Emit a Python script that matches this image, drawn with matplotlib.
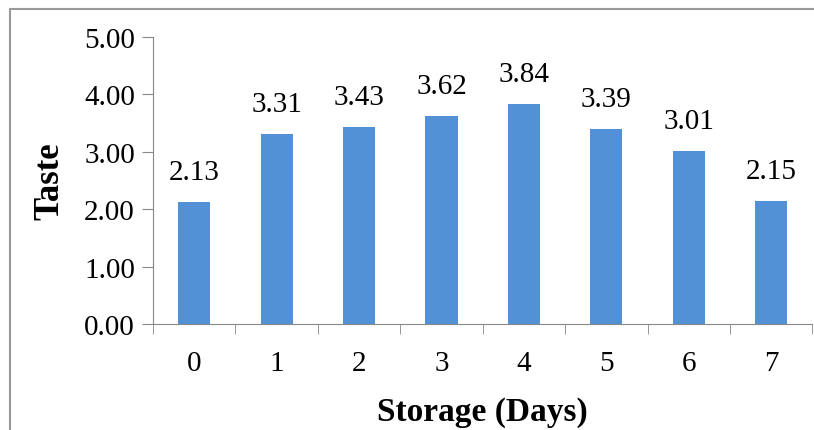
import numpy as np
import matplotlib.pyplot as plt
from matplotlib.patches import Rectangle

days = [0, 1, 2, 3, 4, 5, 6, 7]
taste = [2.13, 3.31, 3.43, 3.62, 3.84, 3.39, 3.01, 2.15]
y_ticks = [0, 1, 2, 3, 4, 5]

plt.rcParams['font.family'] = ['Liberation Serif', 'DejaVu Serif']

fig = plt.figure(figsize=(8.14, 4.31), dpi=100)
ax = fig.add_axes([0.188, 0.246, 0.81, 0.666])

x = np.arange(len(days))
ax.bar(x, taste, width=0.39, color="#5391D7")
# value labels above each bar
for xi, v in zip(x, taste):
    ax.text(xi, v + 0.4, f"{v:.2f}", ha="center", va="baseline", fontsize=21)

ax.set_xlim(-0.5, len(days) - 0.5)
ax.set_ylim(0, 5)
ax.set_yticks(y_ticks)
ax.set_yticklabels([f"{t:.2f}" for t in y_ticks], fontsize=21)
ax.set_xticks(x)
ax.set_xticklabels([str(d) for d in days], fontsize=21)
ax.tick_params(axis="x", length=0, pad=19)
ax.set_xticks(np.arange(-0.5, len(days)), minor=True)
ax.tick_params(axis="x", which="minor", length=7, color="#888888", direction="out")
ax.tick_params(axis="y", length=8, color="#888888", pad=5)

for side in ["top", "right"]:
    ax.spines[side].set_visible(False)
for side in ["left", "bottom"]:
    ax.spines[side].set_color("#888888")

ax.set_xlabel("Storage (Days)", fontsize=24, fontweight="bold", labelpad=14)
ax.set_ylabel("Taste", fontsize=25, fontweight="bold", labelpad=13)

# outer frame like the pasted Excel chart
fig.patches.append(Rectangle((10 / 814, -0.1), 1.2, 1 - 10 / 431 + 0.1,
                             transform=fig.transFigure, fill=False,
                             edgecolor="#999999", linewidth=1.5))

fig.savefig("out.png", dpi=100)
